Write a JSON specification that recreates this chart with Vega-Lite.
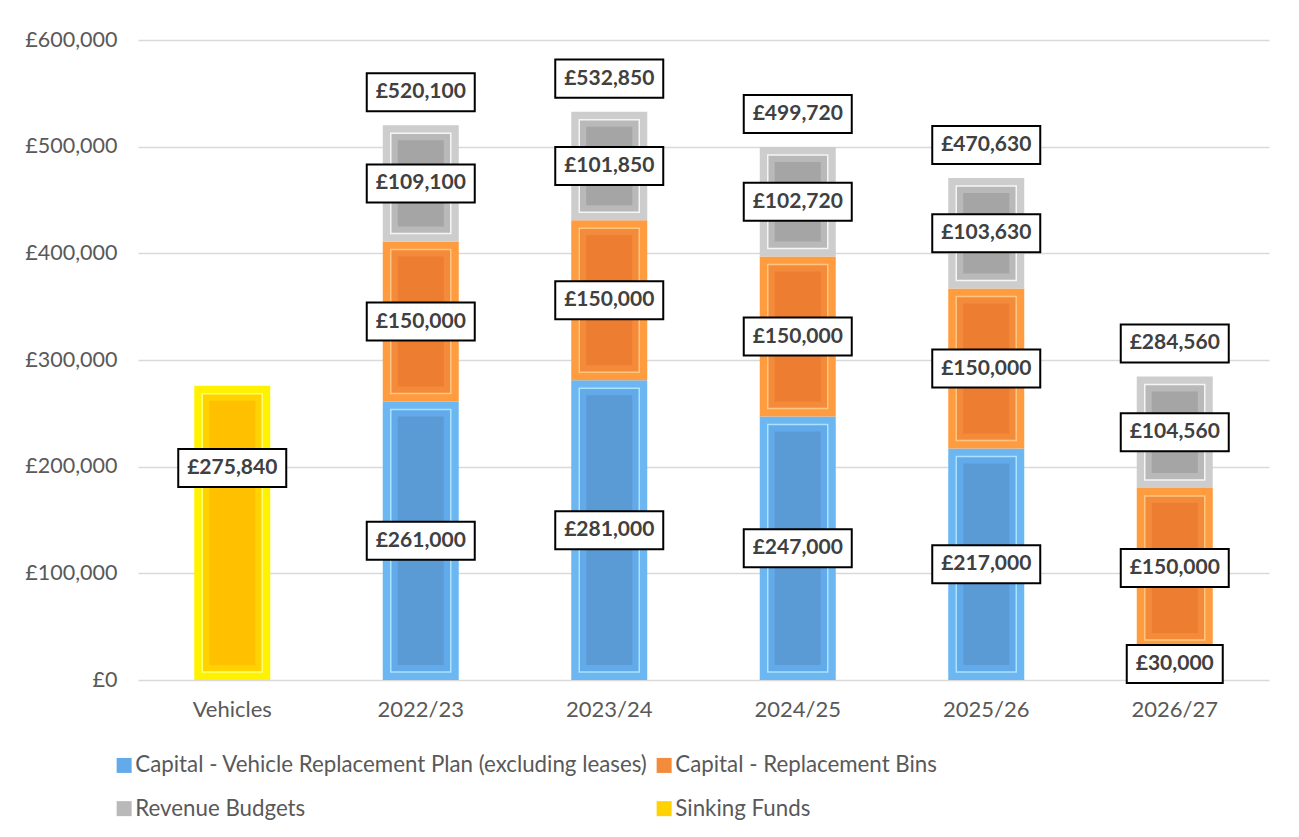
{
  "$schema": "https://vega.github.io/schema/vega-lite/v6.json",
  "width": 1131,
  "height": 640,
  "autosize": "none",
  "padding": {"left": 138, "top": 40, "right": 30, "bottom": 157},
  "background": "white",
  "config": {
    "view": {"stroke": null},
    "font": "Lato",
    "locale": {"number": {"decimal": ".", "thousands": ",", "grouping": [3], "currency": ["£", ""]}}
  },
  "data": {
    "values": [
      {"cat": "Vehicles", "series": "Sinking Funds", "value": 275840, "k": 4},
      {"cat": "2022/23", "series": "Capital - Vehicle Replacement Plan (excluding leases)", "value": 261000, "k": 1},
      {"cat": "2022/23", "series": "Capital - Replacement Bins", "value": 150000, "k": 2},
      {"cat": "2022/23", "series": "Revenue Budgets", "value": 109100, "k": 3},
      {"cat": "2023/24", "series": "Capital - Vehicle Replacement Plan (excluding leases)", "value": 281000, "k": 1},
      {"cat": "2023/24", "series": "Capital - Replacement Bins", "value": 150000, "k": 2},
      {"cat": "2023/24", "series": "Revenue Budgets", "value": 101850, "k": 3},
      {"cat": "2024/25", "series": "Capital - Vehicle Replacement Plan (excluding leases)", "value": 247000, "k": 1},
      {"cat": "2024/25", "series": "Capital - Replacement Bins", "value": 150000, "k": 2},
      {"cat": "2024/25", "series": "Revenue Budgets", "value": 102720, "k": 3},
      {"cat": "2025/26", "series": "Capital - Vehicle Replacement Plan (excluding leases)", "value": 217000, "k": 1},
      {"cat": "2025/26", "series": "Capital - Replacement Bins", "value": 150000, "k": 2},
      {"cat": "2025/26", "series": "Revenue Budgets", "value": 103630, "k": 3},
      {"cat": "2026/27", "series": "Capital - Vehicle Replacement Plan (excluding leases)", "value": 30000, "k": 1},
      {"cat": "2026/27", "series": "Capital - Replacement Bins", "value": 150000, "k": 2},
      {"cat": "2026/27", "series": "Revenue Budgets", "value": 104560, "k": 3}
    ]
  },
  "transform": [
    {"stack": "value", "groupby": ["cat"], "sort": [{"field": "k", "order": "ascending"}], "as": ["v0", "v1"]}
  ],
  "encoding": {
    "x": {
      "field": "cat", "type": "nominal",
      "sort": ["Vehicles", "2022/23", "2023/24", "2024/25", "2025/26", "2026/27"],
      "scale": {"paddingInner": 0, "paddingOuter": 0},
      "axis": {"title": null, "labelAngle": 0, "ticks": false, "domain": false, "labelFont": "Lato", "labelFontSize": 22, "labelColor": "#595959", "labelPadding": 19}
    }
  },
  "layer": [
    {
      "mark": {"type": "bar", "size": 76},
      "encoding": {
        "y": {
          "field": "v1", "type": "quantitative", "title": null,
          "scale": {"domain": [0, 600000]},
          "axis": {"title": null, "values": [0, 100000, 200000, 300000, 400000, 500000, 600000], "format": "$,.0f", "grid": true, "gridColor": "#D9D9D9", "gridWidth": 1.5, "domain": false, "ticks": false, "labelFont": "Lato", "labelFontSize": 21.5, "labelColor": "#595959", "labelPadding": 21}
        },
        "y2": {"field": "v0"},
        "color": {
          "field": "series", "type": "nominal", "legend": null,
          "scale": {"domain": ["Capital - Vehicle Replacement Plan (excluding leases)", "Capital - Replacement Bins", "Revenue Budgets", "Sinking Funds"], "range": ["#6CB7F2", "#FF9C40", "#CDCDCD", "#FFF200"]}
        }
      }
    },
    {
      "mark": {"type": "bar", "size": 60, "yOffset": 8, "y2Offset": -8, "strokeWidth": 1.5},
      "encoding": {
        "y": {"field": "v1", "type": "quantitative", "title": null},
        "y2": {"field": "v0"},
        "color": {
          "field": "series", "type": "nominal",
          "scale": {"domain": ["Capital - Vehicle Replacement Plan (excluding leases)", "Capital - Replacement Bins", "Revenue Budgets", "Sinking Funds"], "range": ["#62AAEA", "#F48B3A", "#B9B9B9", "#FFD200"]},
          "legend": {"orient": "none", "legendX": -25, "legendY": 714, "columns": 2, "title": null, "symbolType": "square", "symbolSize": 225, "symbolStrokeWidth": 0, "labelFont": "Lato", "labelFontSize": 22.3, "labelColor": "#595959", "labelLimit": 800, "labelOffset": 0, "rowPadding": 20.5, "columnPadding": 5, "padding": 0, "direction": "horizontal", "symbolOpacity": 1}
        },
        "stroke": {
          "field": "series", "type": "nominal", "legend": null,
          "scale": {"domain": ["Capital - Vehicle Replacement Plan (excluding leases)", "Capital - Replacement Bins", "Revenue Budgets", "Sinking Funds"], "range": ["#A8E4FF", "#FFC580", "#F5F5F5", "#FFFF70"]}
        }
      }
    },
    {
      "mark": {"type": "bar", "size": 46, "yOffset": 15, "y2Offset": -15},
      "encoding": {
        "y": {"field": "v1", "type": "quantitative", "title": null},
        "y2": {"field": "v0"},
        "color": {
          "field": "series", "type": "nominal", "legend": null,
          "scale": {"domain": ["Capital - Vehicle Replacement Plan (excluding leases)", "Capital - Replacement Bins", "Revenue Budgets", "Sinking Funds"], "range": ["#5B9BD5", "#ED7D31", "#A5A5A5", "#FFC000"]}
        }
      }
    },
    {
      "transform": [
        {"fold": ["v0", "v1"], "as": ["edge", "pos"]},
        {"aggregate": [{"op": "mean", "field": "pos", "as": "mid"}, {"op": "max", "field": "value", "as": "value"}], "groupby": ["cat", "series"]},
        {"filter": "datum.series !== 'Sinking Funds'"}
      ],
      "encoding": {"y": {"field": "mid", "type": "quantitative", "title": null}},
      "layer": [
        {
          "mark": {"type": "point", "filled": true, "fill": "white", "stroke": "black", "strokeWidth": 2, "opacity": 1},
          "encoding": {
            "shape": {"condition": {"test": "datum.value < 100000", "value": "M-1,-0.396H1V0.396H-1Z"}, "value": "M-1,-0.352H1V0.352H-1Z"},
            "size": {"condition": {"test": "datum.value < 100000", "value": 9216}, "value": 11664}
          }
        },
        {
          "mark": {"type": "text", "font": "Lato", "fontWeight": "bold", "fontSize": 21, "color": "#404040", "baseline": "middle", "align": "center"},
          "encoding": {"text": {"field": "value", "type": "quantitative", "format": "$,.0f"}}
        }
      ]
    },
    {
      "transform": [
        {"fold": ["v0", "v1"], "as": ["edge", "pos"]},
        {"aggregate": [{"op": "mean", "field": "pos", "as": "mid"}, {"op": "max", "field": "value", "as": "value"}], "groupby": ["cat", "series"]},
        {"filter": "datum.series === 'Sinking Funds'"}
      ],
      "encoding": {"y": {"field": "mid", "type": "quantitative", "title": null}},
      "layer": [
        {
          "mark": {"type": "point", "filled": true, "fill": "white", "stroke": "black", "strokeWidth": 2, "opacity": 1, "yOffset": -65, "shape": "M-1,-0.352H1V0.352H-1Z", "size": 11664}
        },
        {
          "mark": {"type": "text", "font": "Lato", "fontWeight": "bold", "fontSize": 21, "color": "#404040", "baseline": "middle", "align": "center", "yOffset": -65},
          "encoding": {"text": {"field": "value", "type": "quantitative", "format": "$,.0f"}}
        }
      ]
    },
    {
      "transform": [
        {"aggregate": [{"op": "sum", "field": "value", "as": "total"}, {"op": "count", "as": "n"}], "groupby": ["cat"]},
        {"filter": "datum.n > 1"}
      ],
      "encoding": {"y": {"field": "total", "type": "quantitative", "title": null}},
      "layer": [
        {
          "mark": {"type": "point", "filled": true, "fill": "white", "stroke": "black", "strokeWidth": 2, "opacity": 1, "yOffset": -33, "shape": "M-1,-0.352H1V0.352H-1Z", "size": 11664}
        },
        {
          "mark": {"type": "text", "font": "Lato", "fontWeight": "bold", "fontSize": 21, "color": "#404040", "baseline": "middle", "align": "center", "yOffset": -33},
          "encoding": {"text": {"field": "total", "type": "quantitative", "format": "$,.0f"}}
        }
      ]
    }
  ],
  "resolve": {"scale": {"color": "independent", "stroke": "independent"}}
}
